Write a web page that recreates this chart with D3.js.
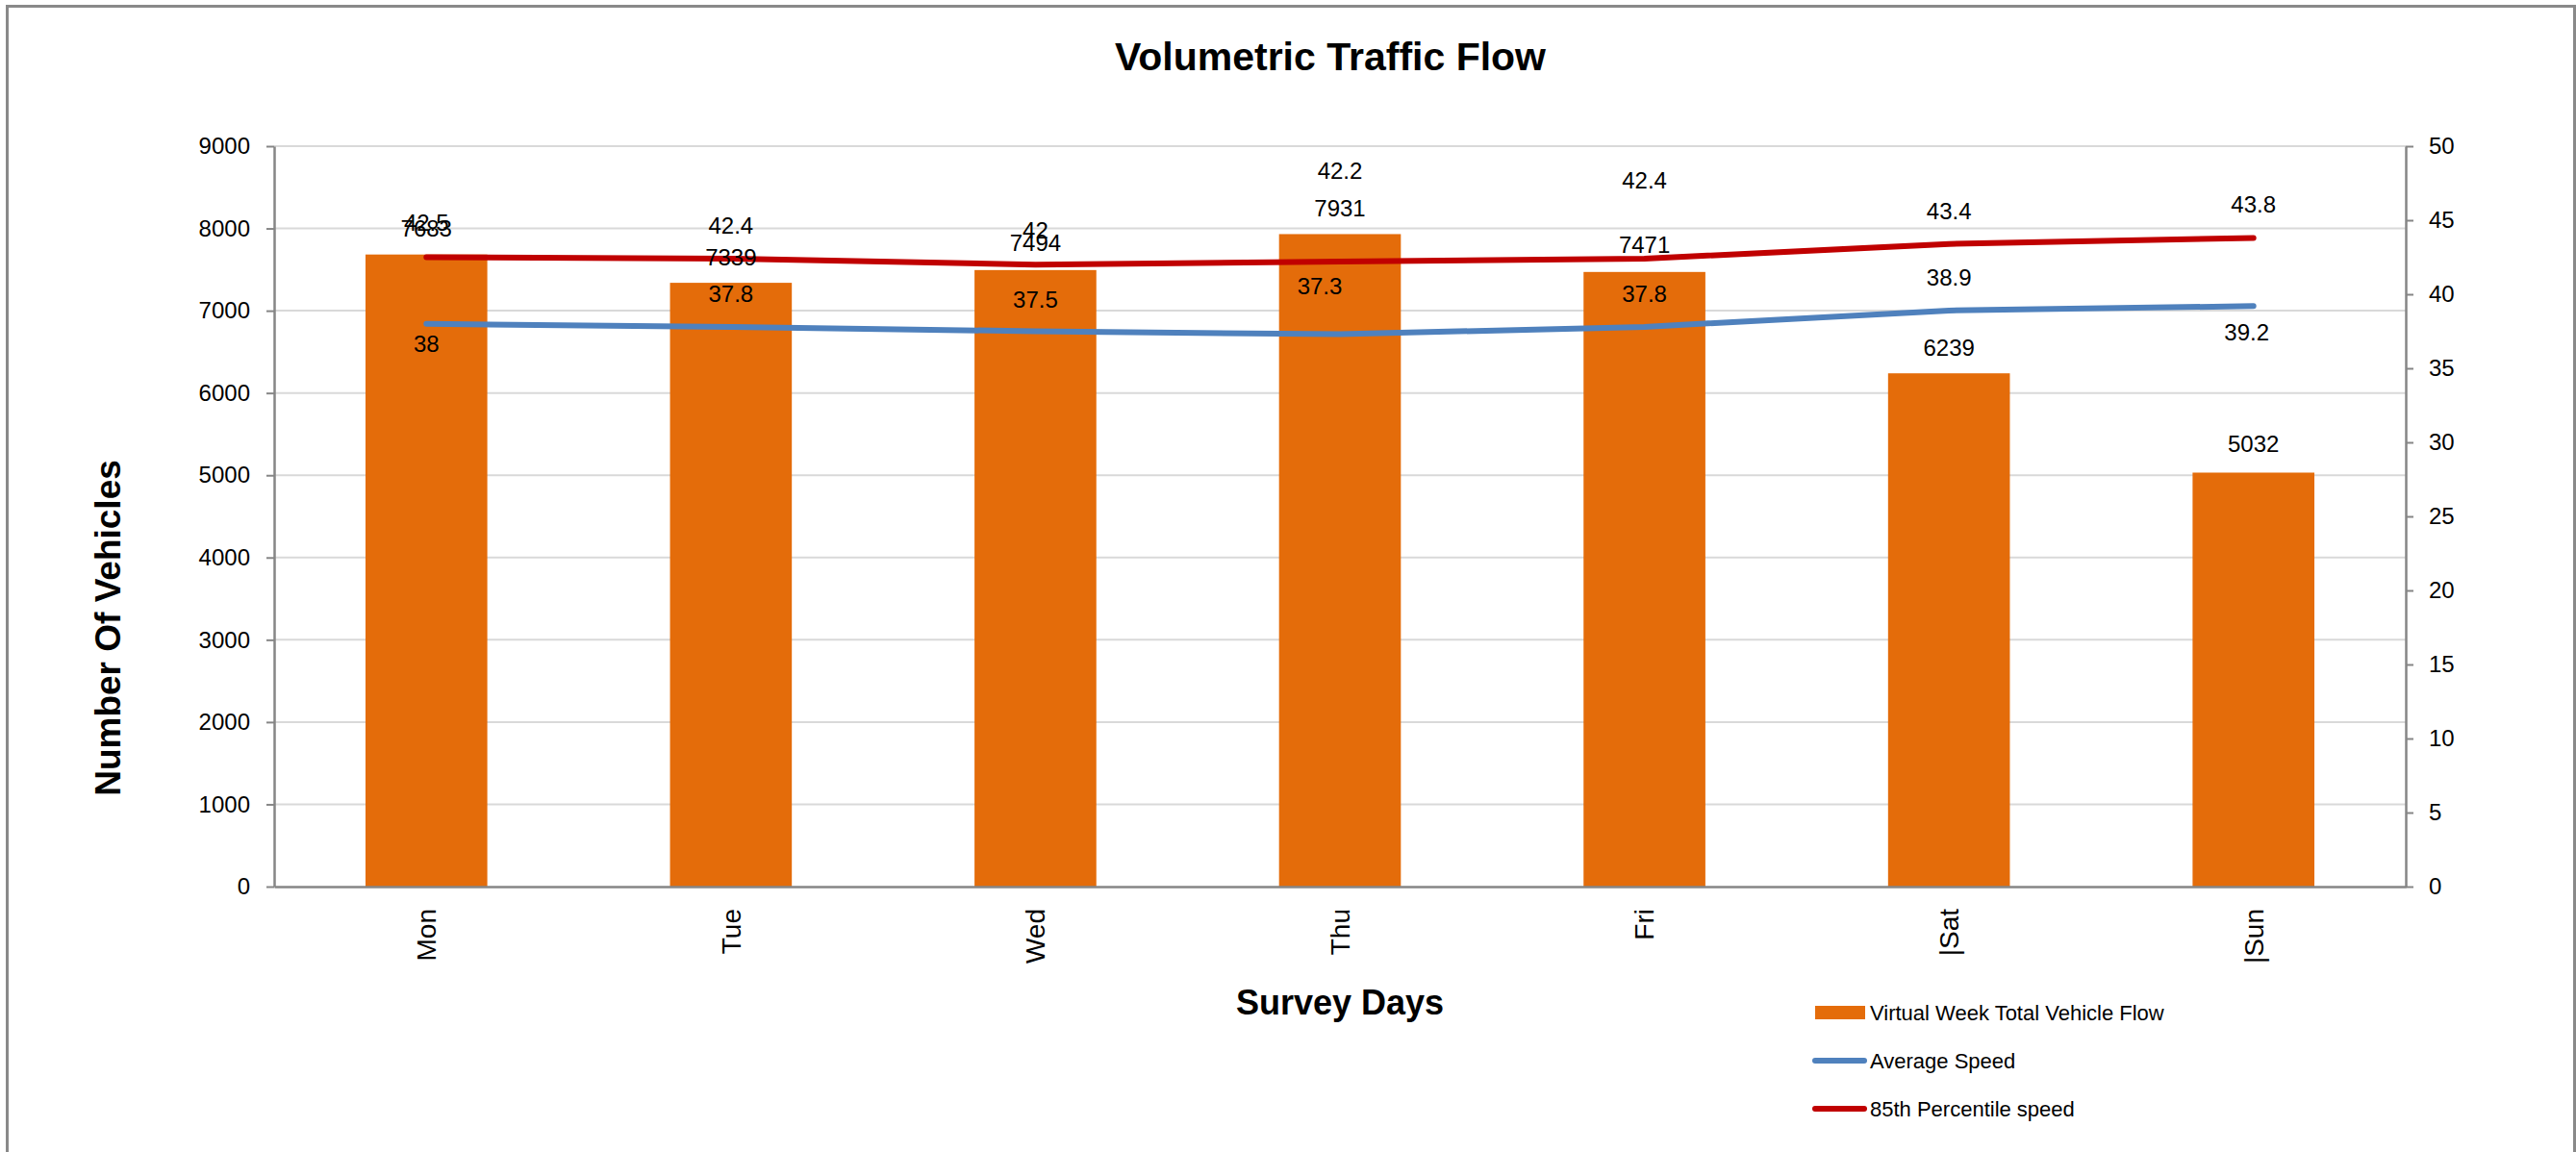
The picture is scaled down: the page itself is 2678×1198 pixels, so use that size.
<!DOCTYPE html>
<html>
<head>
<meta charset="utf-8">
<script src="https://cdn.jsdelivr.net/npm/d3@7"></script>
<style>
  body { margin: 0; background: #fff; }
  text { font-family: "Liberation Sans", Arial, sans-serif; fill: #000; }
</style>
</head>
<body>
<script>
// ==========================================
// 1. DATA
// ==========================================

const days = ["Mon", "Tue", "Wed", "Thu", "Fri", "|Sat", "|Sun"];
const vehicleFlow = [7683, 7339, 7494, 7931, 7471, 6239, 5032];
const avgSpeed = [38, 37.8, 37.5, 37.3, 37.8, 38.9, 39.2];
const p85Speed = [42.5, 42.4, 42, 42.2, 42.4, 43.4, 43.8];

const leftTicks = [0, 1000, 2000, 3000, 4000, 5000, 6000, 7000, 8000, 9000];
const rightTicks = [0, 5, 10, 15, 20, 25, 30, 35, 40, 45, 50];

const seriesNames = ["Virtual Week Total Vehicle Flow", "Average Speed", "85th Percentile speed"];

// label nudges (pixels), the way Excel left them
const flowLabelDy = [-27, -27, -28, -27, -28, -27, -30];
const avgLabelDy = [21, -34, -33, -50, -34, -34, 27];
const avgLabelDx = [0, 0, 0, -21, 0, 0, -7];
const p85LabelDy = [-36, -34, -36, -95, -81, -34, -35];

// ==========================================
// 2. SETUP
// ==========================================

const W = 2678, H = 1198;
const margin = {top: 152, right: 177, bottom: 276, left: 285};
const plotRight = W - margin.right;
const plotBottom = H - margin.bottom;

const orange = "#E46C0A", blue = "#4F81BD", red = "#C00000", axisGray = "#868686";

const svg = d3.select("body").append("svg")
    .attr("width", W)
    .attr("height", H);

// outer chart frame
svg.append("rect")
    .attr("x", 7.5).attr("y", 6.5)
    .attr("width", 2669).attr("height", 1220)
    .attr("fill", "none")
    .attr("stroke", "#898989")
    .attr("stroke-width", 3);

const x = d3.scaleBand()
    .domain(days)
    .range([margin.left, plotRight])
    .paddingInner(0.6)
    .paddingOuter(0.3);

const yLeft = d3.scaleLinear().domain([0, 9000]).range([plotBottom, margin.top]);
const yRight = d3.scaleLinear().domain([0, 50]).range([plotBottom, margin.top]);

const cx = d => x(d) + x.bandwidth() / 2;

// gridlines
svg.append("g")
    .selectAll("line")
    .data(leftTicks.slice(1))
    .join("line")
    .attr("x1", margin.left).attr("x2", plotRight)
    .attr("y1", d => yLeft(d)).attr("y2", d => yLeft(d))
    .attr("stroke", "#d9d9d9")
    .attr("stroke-width", 2);

// ==========================================
// 3. BARS + LINES
// ==========================================

svg.append("g")
    .selectAll("rect")
    .data(days)
    .join("rect")
    .attr("x", d => x(d))
    .attr("y", (d, i) => yLeft(vehicleFlow[i]))
    .attr("width", x.bandwidth())
    .attr("height", (d, i) => plotBottom - yLeft(vehicleFlow[i]))
    .attr("fill", orange);

const speedLine = values => d3.line()
    .x((d, i) => cx(days[i]))
    .y(d => yRight(d))(values);

svg.append("path")
    .attr("d", speedLine(avgSpeed))
    .attr("fill", "none")
    .attr("stroke", blue)
    .attr("stroke-width", 6)
    .attr("stroke-linecap", "round")
    .attr("stroke-linejoin", "round");

svg.append("path")
    .attr("d", speedLine(p85Speed))
    .attr("fill", "none")
    .attr("stroke", red)
    .attr("stroke-width", 6)
    .attr("stroke-linecap", "round")
    .attr("stroke-linejoin", "round");

// ==========================================
// 4. AXES
// ==========================================

const styleAxis = g => {
    g.select(".domain").attr("stroke", axisGray).attr("stroke-width", 2.5);
    g.selectAll(".tick line").attr("stroke", axisGray).attr("stroke-width", 2);
    g.selectAll("text")
        .attr("font-family", "'Liberation Sans', Arial, sans-serif")
        .attr("font-size", 24)
        .attr("fill", "#000");
};

svg.append("g")
    .attr("transform", `translate(${margin.left},0)`)
    .call(d3.axisLeft(yLeft).tickValues(leftTicks).tickFormat(d3.format("d"))
        .tickSize(8).tickSizeOuter(0).tickPadding(17))
    .call(styleAxis);

svg.append("g")
    .attr("transform", `translate(${plotRight},0)`)
    .call(d3.axisRight(yRight).tickValues(rightTicks).tickFormat(d3.format("d"))
        .tickSize(8).tickSizeOuter(0).tickPadding(16))
    .call(styleAxis);

const xAxisGroup = svg.append("g")
    .attr("transform", `translate(0,${plotBottom})`)
    .call(d3.axisBottom(x).tickSize(0).tickSizeOuter(0).tickPadding(0))
    .call(styleAxis);

xAxisGroup.selectAll("text")
    .attr("font-family", "'DejaVu Sans', sans-serif")
    .attr("font-size", 28)
    .attr("text-anchor", "end")
    .attr("transform", "rotate(-90)")
    .attr("x", -23)
    .attr("y", 0)
    .attr("dy", "0.35em");

// ==========================================
// 5. DATA LABELS
// ==========================================

const labelLayer = svg.append("g")
    .attr("font-size", 24)
    .attr("text-anchor", "middle");

labelLayer.selectAll(".flow-label")
    .data(vehicleFlow)
    .join("text")
    .attr("class", "flow-label")
    .attr("x", (d, i) => cx(days[i]))
    .attr("y", (d, i) => yLeft(d) + flowLabelDy[i])
    .attr("dy", "0.35em")
    .text(d => d);

labelLayer.selectAll(".avg-label")
    .data(avgSpeed)
    .join("text")
    .attr("class", "avg-label")
    .attr("x", (d, i) => cx(days[i]) + avgLabelDx[i])
    .attr("y", (d, i) => yRight(d) + avgLabelDy[i])
    .attr("dy", "0.35em")
    .text(d => d);

labelLayer.selectAll(".p85-label")
    .data(p85Speed)
    .join("text")
    .attr("class", "p85-label")
    .attr("x", (d, i) => cx(days[i]))
    .attr("y", (d, i) => yRight(d) + p85LabelDy[i])
    .attr("dy", "0.35em")
    .text(d => d);

// ==========================================
// 6. TITLES + LEGEND
// ==========================================

svg.append("text")
    .attr("x", 1383).attr("y", 73)
    .attr("text-anchor", "middle")
    .attr("font-size", 41)
    .attr("font-weight", "bold")
    .text("Volumetric Traffic Flow");

svg.append("text")
    .attr("x", (margin.left + plotRight) / 2).attr("y", 1055)
    .attr("text-anchor", "middle")
    .attr("font-size", 36)
    .attr("font-weight", "bold")
    .text("Survey Days");

svg.append("text")
    .attr("transform", "translate(125,653) rotate(-90)")
    .attr("text-anchor", "middle")
    .attr("font-size", 37)
    .attr("font-weight", "bold")
    .text("Number Of Vehicles");

const legend = svg.append("g").attr("transform", "translate(1884,1053)");
const legendColors = [orange, blue, red];

seriesNames.forEach((name, i) => {
    const row = legend.append("g").attr("transform", `translate(0,${i * 50})`);
    if (i === 0) {
        row.append("rect")
            .attr("x", 3).attr("y", -7)
            .attr("width", 52).attr("height", 14)
            .attr("fill", legendColors[i]);
    } else {
        row.append("line")
            .attr("x1", 3).attr("x2", 54)
            .attr("stroke", legendColors[i])
            .attr("stroke-width", 6)
            .attr("stroke-linecap", "round");
    }
    row.append("text")
        .attr("x", 60)
        .attr("dy", "0.35em")
        .attr("font-size", 22)
        .text(name);
});
</script>
</body>
</html>
